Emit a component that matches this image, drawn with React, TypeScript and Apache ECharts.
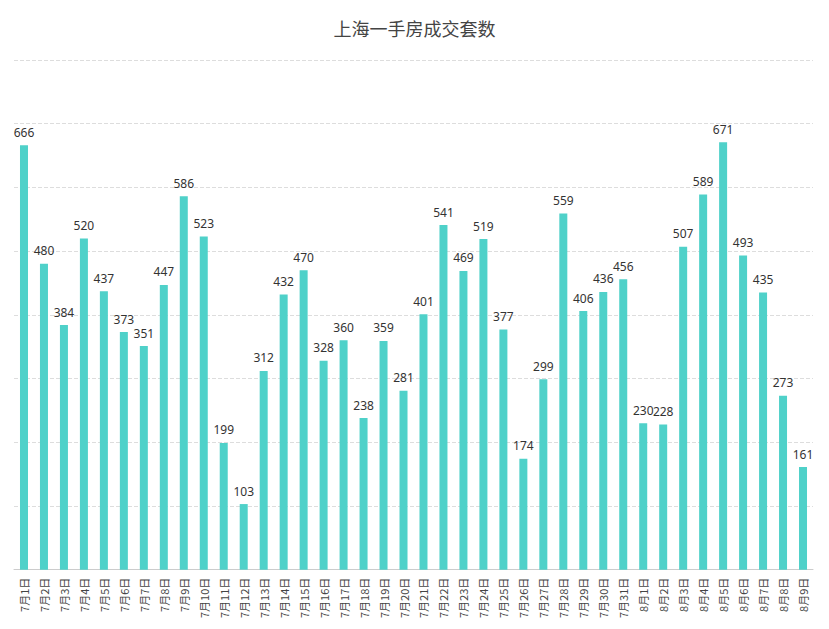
import { useEffect, useRef } from 'react';
import * as echarts from 'echarts';

const days = [
  ...Array.from({ length: 31 }, (_, i) => `7月${i + 1}日`),
  ...Array.from({ length: 9 }, (_, i) => `8月${i + 1}日`),
];
const sales = [
  666, 480, 384, 520, 437, 373, 351, 447, 586, 523, 199, 103, 312, 432, 470, 328, 360, 238, 359, 281,
  401, 541, 469, 519, 377, 174, 299, 559, 406, 436, 456, 230, 228, 507, 589, 671, 493, 435, 273, 161,
];

export default function App() {
  const ref = useRef(null);

  useEffect(() => {
    const chart = echarts.init(ref.current, null, { renderer: 'svg' });
    chart.setOption({
      animation: false,
      title: {
        text: '上海一手房成交套数',
        left: 'center',
        top: 6,
        textStyle: { fontSize: 18, fontWeight: 'normal', color: '#444', fontFamily: 'Noto Sans CJK SC' },
      },
      grid: { left: 6, right: 8, top: 52, bottom: 49 },
      xAxis: {
        type: 'category',
        data: days,
        axisLine: { lineStyle: { color: '#ccc' } },
        axisTick: { lineStyle: { color: '#ccc' } },
        axisLabel: { rotate: 90, interval: 0, color: '#444', fontSize: 11, fontFamily: 'Noto Sans CJK SC' },
      },
      yAxis: {
        type: 'value',
        min: 0,
        max: 800,
        interval: 100,
        axisLabel: { show: false },
        axisLine: { show: false },
        axisTick: { show: false },
        splitLine: { lineStyle: { type: 'dashed', color: '#ddd' } },
      },
      series: [
        {
          type: 'bar',
          data: sales,
          barWidth: 8,
          itemStyle: { color: '#4fd1c9' },
          label: { show: true, position: 'top', distance: 7, color: '#333', fontSize: 12, fontFamily: 'Noto Sans' },
        },
      ],
    });
    return () => chart.dispose();
  }, []);

  return <div ref={ref} style={{ width: 813, height: 613 }} />;
}
